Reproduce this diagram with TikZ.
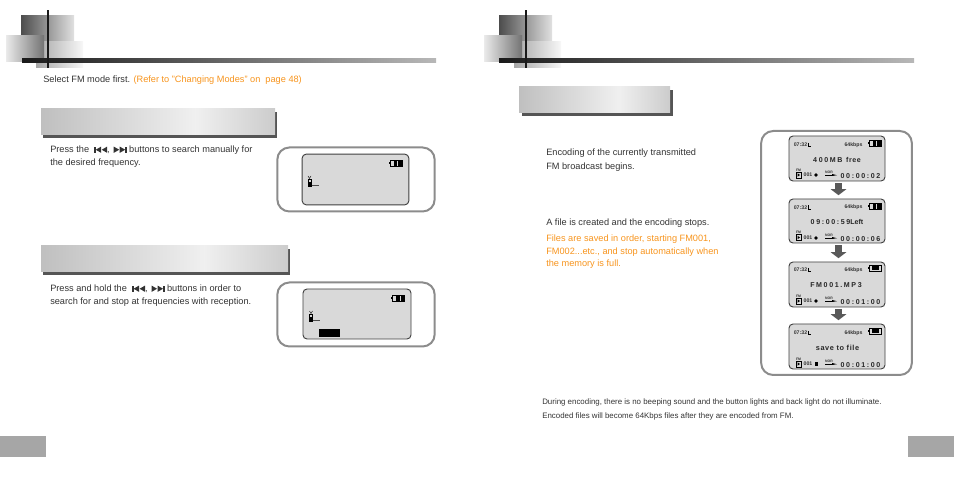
\documentclass[tikz,border=0pt]{standalone}
\usepackage{fontspec}
\setmainfont{Liberation Sans}
\newfontfamily\lcdfont[LetterSpace=23]{Liberation Sans}
\newfontfamily\lcdword[LetterSpace=8]{Liberation Sans}
\usetikzlibrary{arrows.meta}

\definecolor{bodytext}{HTML}{333333}
\definecolor{noteorange}{HTML}{F7941D}
\definecolor{lcdgray}{HTML}{D9D9D9}
\definecolor{framegray}{HTML}{8C8C8C}
\definecolor{shadowgray}{HTML}{555555}

\pgfdeclarehorizontalshading{bandshade}{100bp}{color(0bp)=(black!25); color(25bp)=(black!25); color(58bp)=(black!6); color(75bp)=(black!20); color(100bp)=(black!20)}

\newcommand{\prevbtn}{\tikz[baseline=0pt,x=0.75pt,y=0.75pt]{\fill (0,0) rectangle (1.5,6.4); \fill (7,0) -- (1.5,3.2) -- (7,6.4); \fill (13,0) -- (7.5,3.2) -- (13,6.4);}}
\newcommand{\nextbtn}{\tikz[baseline=0pt,x=0.75pt,y=0.75pt]{\fill (0,0) -- (5.5,3.2) -- (0,6.4); \fill (6,0) -- (11.5,3.2) -- (6,6.4); \fill (11.5,0) rectangle (13,6.4);}}

\tikzset{
    bodyline/.style={anchor=north west, inner sep=0pt, align=left, text=bodytext, font=\fontsize{6.9}{9.75}\selectfont},
    noteline/.style={bodyline, text=noteorange, font=\fontsize{6.9}{9.4}\selectfont},
    footline/.style={bodyline, font=\fontsize{5.93}{9}\selectfont},
    panel/.style={draw=framegray, line width=1.5pt, rounded corners=9pt, fill=white, inner sep=0pt},
    lcd/.style={draw=black!75, line width=0.7pt, rounded corners=3pt, fill=lcdgray, inner sep=0pt},
    band/.style={shade, shading=bandshade, inner sep=0pt},
    tinytext/.style={inner sep=0pt, text=black!80, font=\bfseries\fontsize{3.9}{4}\selectfont},
    lcdtext/.style={inner sep=0pt, text=black!85, font=\lcdfont\bfseries\fontsize{5.3}{6}\selectfont},
    lcdwordtext/.style={lcdtext, font=\lcdword\bfseries\fontsize{5.5}{6}\selectfont},
    flowarrow/.style={draw=black!65, line width=5.5pt, -{Triangle[length=4.5pt,width=11.5pt]}, shorten <=1.5pt, shorten >=2.5pt},
    batt/.pic={
        \draw [black, line width=0.5pt, fill=lcdgray] (-6,-3) rectangle (6,3);
        \fill [black] (-7.2,-1.2) rectangle (-6,1.2);
        \fill [black] (-2.5,-2.6) rectangle (1,2.6);
        \fill [black] (2,-2.6) rectangle (5.5,2.6);
    },
    lowbatt/.pic={
        \draw [black, line width=0.5pt, fill=lcdgray] (-6,-3) rectangle (6,3);
        \fill [black] (-7.2,-1.2) rectangle (-6,1.2);
        \fill [black] (-3,-2) rectangle (4,2);
    },
    aerial/.pic={
        \draw [black, line width=0.5pt] (-1.5,-3) rectangle (1.5,4);
        \fill [black] (-1.5,0) rectangle (1.5,4);
        \draw [black, line width=0.3pt] (-1.5,-6) -- (0,-3.5) -- (1.5,-6);
        \draw [black!70, line width=0.4pt] (2,3) -- (9,3);
    },
    fmfile/.pic={
        \node (-fm) [tinytext, font=\bfseries\fontsize{2.6}{3}\selectfont] at (0,-4.5) {FM};
        \draw [black, line width=0.6pt] (-2.5,-2.5) rectangle (2.5,3.5);
        \fill [black] (-1,-1.2) -- (1.5,0.5) -- (-1,2.2);
    },
    normark/.pic={
        \node (-nor) [tinytext, font=\bfseries\fontsize{2.6}{3}\selectfont] at (4,-1.5) {NOR};
        \draw [black, line width=0.5pt] (0,1) -- (8,1);
        \fill [black] (7,0) -- (12,1.2) -- (7,2);
    },
    clockmark/.pic={
        \draw [black, line width=0.3pt] (0,-2) -- (0,1.5) -- (2.5,1.5);
    }
}

\begin{document}
\begin{tikzpicture}[x=0.75pt,y=-0.75pt]
    \useasboundingbox (0,0) rectangle (954,477);

    % left page header
    \shade [left color=black!70, right color=black!12] (21,16) rectangle (74,42);
    \shade [left color=black!35, right color=black!3] (36,42) rectangle (83,68);
    \shade [left color=black!8, right color=black!55] (6,36) rectangle (44,62);
    \shade [left color=black!90, right color=black!28] (22,59) rectangle (436,63);
    \fill [black!90] (46.7,10) rectangle (48.5,68);

    % right page header
    \shade [left color=black!70, right color=black!12] (499,16) rectangle (552,42);
    \shade [left color=black!35, right color=black!3] (514,42) rectangle (561,68);
    \shade [left color=black!8, right color=black!55] (484,36) rectangle (522,62);
    \shade [left color=black!90, right color=black!28] (499,59) rectangle (914,63);
    \fill [black!90] (525,10) rectangle (526.8,68);

    \node (selectline) [bodyline] at (43,76) {Select FM mode first. \textcolor{noteorange}{(Refer to "Changing Modes" on\ \ page 48)}};

    % manual search
    \fill [shadowgray] (43,112) rectangle (277,138);
    \node (manualband) [band, minimum width=175.5pt, minimum height=19.5pt] at (158,122) {};
    \node (manualtext) [bodyline] at (50,146) {Press the\ \ \prevbtn, \hspace{1pt}\nextbtn\ buttons to search manually for\\the desired frequency.};
    \node (manualpanel) [panel, minimum width=118pt, minimum height=48pt] at (356,179.5) {};
    \node (manuallcd) [lcd, minimum width=80pt, minimum height=38pt] at (355.5,179.5) {};
    \pic at (396,163) {batt};
    \pic at (309.5,182) {aerial};

    % auto search
    \fill [shadowgray] (43,249) rectangle (290,275);
    \node (autoband) [band, minimum width=185.25pt, minimum height=19.5pt] at (164.5,259) {};
    \node (autotext) [bodyline] at (50,285) {Press and hold the\ \ \prevbtn, \hspace{1pt}\nextbtn\ buttons in order to\\search for and stop at frequencies with reception.};
    \node (autopanel) [panel, minimum width=118pt, minimum height=48pt] at (356,314.5) {};
    \node (autolcd) [lcd, minimum width=81pt, minimum height=37.5pt] at (357,314) {};
    \pic at (398.5,298) {batt};
    \pic at (311,317) {aerial};
    \fill [black] (319,329) rectangle (340,337);

    % encoding
    \fill [shadowgray] (522,90) rectangle (673,116);
    \node (encodeband) [band, minimum width=113.25pt, minimum height=19.5pt] at (594.5,100) {};
    \node (encodetext) [bodyline, font=\fontsize{6.9}{10.5}\selectfont] at (546,149) {Encoding of the currently transmitted\\FM broadcast begins.};
    \node (stoptext) [bodyline] at (546,219) {A file is created and the encoding stops.};
    \node (savednote) [noteline] at (546,235) {Files are saved in order, starting FM001,\\FM002...etc., and stop automatically when\\the memory is full.};

    \node (flowpanel) [panel, minimum width=113pt, minimum height=183pt] at (836.5,253) {};

    \node (recfree) [lcd, minimum width=72pt, minimum height=33.75pt] at (837,158.5) {};
    \node (recleft) [lcd, minimum width=72pt, minimum height=33pt] at (837,221) {};
    \node (recname) [lcd, minimum width=72pt, minimum height=33.75pt] at (837,284.5) {};
    \node (recsave) [lcd, minimum width=72pt, minimum height=33.75pt] at (837,346.5) {};
    \draw [flowarrow] (recfree.south -| 838.5,0) -- (recleft.north -| 838.5,0);
    \draw [flowarrow] (recleft.south -| 838.5,0) -- (recname.north -| 838.5,0);
    \draw [flowarrow] (recname.south -| 838.5,0) -- (recsave.north -| 838.5,0);

    \node (clockA) [tinytext] at (800.5,145) {07:32};
    \pic at (808,145) {clockmark};
    \node (rateA) [tinytext] at (853.5,145) {64kbps};
    \pic at (875,143) {batt};
    \node (mainA) [lcdtext] at (837,159.5) {400MB\ {\lcdword free}};
    \pic at (798.5,174.5) {fmfile};
    \node (numA) [tinytext] at (808,175) {001};
    \fill [black] (816,175) circle (1.8);
    \pic at (825,174) {normark};
    \node (timeA) [lcdtext] at (860.5,176) {00:00:02};

    \node (clockB) [tinytext] at (800.5,207.5) {07:32};
    \pic at (808,207.5) {clockmark};
    \node (rateB) [tinytext] at (853.5,207.5) {64kbps};
    \pic at (875,206) {batt};
    \node (mainB) [lcdtext] at (837,222) {09:00:59{\rmfamily Left}};
    \pic at (798.5,237) {fmfile};
    \node (numB) [tinytext] at (808,238) {001};
    \fill [black] (816,238) circle (1.8);
    \pic at (825,237) {normark};
    \node (timeB) [lcdtext] at (860.5,239) {00:00:06};

    \node (clockC) [tinytext] at (800.5,270) {07:32};
    \pic at (808,270) {clockmark};
    \node (rateC) [tinytext] at (853.5,270) {64kbps};
    \pic at (875,268) {lowbatt};
    \node (mainC) [lcdtext] at (836,285) {FM001.MP3};
    \pic at (798.5,300.5) {fmfile};
    \node (numC) [tinytext] at (808,301) {001};
    \fill [black] (816,301) circle (1.8);
    \pic at (825,300) {normark};
    \node (timeC) [lcdtext] at (860.5,302) {00:01:00};

    \node (clockD) [tinytext] at (800.5,333) {07:32};
    \pic at (808,333) {clockmark};
    \node (rateD) [tinytext] at (853.5,333) {64kbps};
    \pic at (875,331) {lowbatt};
    \node (mainD) [lcdwordtext] at (837.5,348) {save to file};
    \pic at (798.5,363.5) {fmfile};
    \node (numD) [tinytext] at (808,364) {001};
    \fill [black] (814.5,362.5) rectangle (818,366);
    \pic at (825,363) {normark};
    \node (timeD) [lcdtext] at (860.5,365) {00:01:00};

    \node (footA) [footline] at (542,399) {During encoding, there is no beeping sound and the button lights and back light do not illuminate.};
    \node (footB) [footline] at (542,413) {Encoded files will become 64Kbps files after they are encoded from FM.};

    % page tabs
    \fill [black!35] (0,436) rectangle (46,457);
    \fill [black!35] (908,436) rectangle (954,457);
\end{tikzpicture}
\end{document}
